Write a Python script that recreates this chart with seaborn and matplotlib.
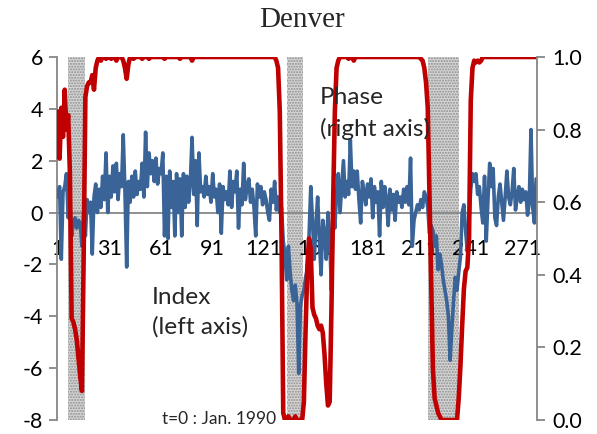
import numpy as np
import pandas as pd
import matplotlib
matplotlib.use("Agg")
import matplotlib.pyplot as plt
import seaborn as sns

# ---------------- data ----------------
index_values = [
    0.6, 1.0, -1.8, 0.8, 1.0, 1.5, -0.2, 0.3, -0.9, -0.4,
    -0.2, -0.6, -0.3, -0.4, -1.3, 0.0, -0.9, 0.5, 0.0, 0.4,
    -1.6, 0.6, 1.1, 0.0, 0.9, 0.2, 1.4, 0.5, 2.3, 0.0,
    1.4, 0.6, 1.8, 0.8, 1.9, 0.5, 1.5, 1.0, 3.0, 0.8,
    -2.1, 1.2, 0.4, 1.4, 0.6, 1.6, 0.7, 1.2, 0.9, 1.9,
    0.6, 3.1, 1.0, 2.3, 1.5, 2.0, 1.2, 2.1, 1.1, 1.7,
    1.5, 2.3, -0.9, 1.4, -1.0, 1.6, 0.2, 1.2, -0.9, 1.5,
    0.0, 1.3, -0.9, 1.5, 0.2, 1.4, 0.4, 1.2, 2.9, 0.7,
    2.0, -0.5, 2.3, 0.8, 1.0, 0.6, 1.4, 0.7, 1.0, 0.4,
    1.5, 0.6, 0.9, 0.0, 1.1, -0.8, 1.0, 0.5, 0.8, 0.3,
    1.6, 0.2, 1.2, 0.8, 1.6, -0.6, 0.9, 0.3, 1.9, 0.5,
    1.0, 1.3, 0.4, 0.9, 0.2, -0.9, 1.1, 0.6, 1.0, 0.3,
    0.8, 0.5, 0.0, -0.3, 0.9, 0.4, 1.2, 0.1, 0.6, 0.0,
    0.2, -1.1, -1.6, -2.6, -1.3, -2.3, -3.0, -3.4, -2.8, -3.5,
    -6.2, -3.6, -3.2, -3.0, -2.5, -2.2, -0.9, 1.0, -0.3, -1.8,
    -0.5, 0.6, -1.0, -2.4, -0.3, -0.8, -1.8, 0.0, -0.9, -3.0,
    0.0, -0.6, 0.8, 1.5, 0.0, 1.0, 2.0, 0.6, 1.2, 0.7,
    2.8, 1.0, 1.6, 0.9, 1.6, 0.5, -0.4, 1.2, 0.8, 0.3,
    1.1, 0.6, 1.3, -0.2, 1.0, 0.4, 0.8, -0.9, 1.2, 0.2,
    1.0, 0.5, -0.5, 0.9, 0.1, 0.7, -0.3, 0.8, 0.4, 0.6,
    0.2, 0.9, 0.4, 1.0, 0.3, 2.1, -1.3, -0.3, 0.0, 0.3,
    0.1, 0.5, 0.2, 0.8, 0.6, 0.2, -0.8, -0.5, -0.7, -1.3,
    -0.9, -2.2, -1.6, -2.0, -2.6, -3.0, -3.4, -4.0, -5.7, -4.5,
    -3.4, -2.5, -3.0, -2.3, -1.7, 0.0, 0.3, -0.7, -1.5, -0.3,
    0.9, 1.5, 1.2, 1.5, 0.7, 1.0, 0.2, -0.4, 1.4, -1.1,
    0.5, 1.9, 1.0, 1.7, -0.2, -0.5, 0.6, 1.1, 0.4, -0.3,
    0.6, 1.6, 0.6, 0.3, 0.8, 1.7, 0.1, 0.6, 1.0, 0.4,
    0.9, 0.5, 0.8, -0.1, 0.4, 3.2, 0.2, -0.4, 1.3,
]

phase_values = [
    0.85, 0.72, 0.86, 0.78, 0.91, 0.80, 0.84, 0.68, 0.28, 0.27,
    0.25, 0.22, 0.17, 0.12, 0.08, 0.45, 0.89, 0.92, 0.93, 0.93,
    0.95, 0.91, 0.97, 0.99, 1.0, 0.99, 1.0, 1.0, 0.995, 1.0,
    1.0, 0.995, 1.0, 1.0, 0.99, 1.0, 1.0, 1.0, 0.99, 0.97,
    0.94, 0.98, 1.0, 1.0, 0.995, 1.0, 1.0, 1.0, 1.0, 0.995,
    1.0, 1.0, 1.0, 0.995, 1.0, 1.0, 1.0, 1.0, 1.0, 1.0,
    1.0, 1.0, 0.995, 1.0, 1.0, 1.0, 1.0, 1.0, 1.0, 1.0,
    1.0, 0.995, 1.0, 1.0, 1.0, 1.0, 1.0, 1.0, 0.99, 1.0,
    1.0, 1.0, 1.0, 1.0, 1.0, 1.0, 1.0, 1.0, 1.0, 1.0,
    1.0, 1.0, 1.0, 1.0, 1.0, 1.0, 1.0, 1.0, 1.0, 1.0,
    1.0, 1.0, 1.0, 1.0, 1.0, 1.0, 1.0, 1.0, 1.0, 1.0,
    1.0, 1.0, 1.0, 1.0, 1.0, 1.0, 1.0, 1.0, 1.0, 1.0,
    1.0, 1.0, 1.0, 1.0, 1.0, 1.0, 1.0, 0.99, 0.97, 0.85,
    0.5, 0.02, 0.0, 0.0, 0.01, 0.0, 0.0, 0.0, 0.01, 0.0,
    0.0, 0.0, 0.0, 0.05, 0.25, 0.42, 0.5, 0.47, 0.31, 0.29,
    0.28, 0.26, 0.25, 0.26, 0.24, 0.18, 0.1, 0.04, 0.05, 0.3,
    0.6, 0.85, 0.97, 0.99, 1.0, 1.0, 1.0, 1.0, 1.0, 0.995,
    1.0, 1.0, 0.99, 1.0, 1.0, 1.0, 1.0, 1.0, 1.0, 1.0,
    1.0, 1.0, 1.0, 1.0, 1.0, 1.0, 1.0, 1.0, 1.0, 1.0,
    1.0, 1.0, 1.0, 1.0, 1.0, 1.0, 1.0, 1.0, 1.0, 1.0,
    1.0, 1.0, 1.0, 1.0, 1.0, 1.0, 1.0, 1.0, 1.0, 1.0,
    1.0, 0.995, 0.99, 0.97, 0.93, 0.86, 0.62, 0.38, 0.14, 0.06,
    0.04, 0.02, 0.01, 0.0, 0.0, 0.0, 0.0, 0.0, 0.0, 0.0,
    0.0, 0.0, 0.0, 0.06, 0.15, 0.26, 0.36, 0.41, 0.42, 0.5,
    0.88, 0.97, 0.99, 0.985, 0.99, 0.985, 0.99, 1.0, 1.0, 1.0,
    1.0, 1.0, 1.0, 1.0, 1.0, 1.0, 1.0, 1.0, 1.0, 1.0,
    1.0, 1.0, 1.0, 1.0, 1.0, 1.0, 1.0, 1.0, 1.0, 1.0,
    1.0, 1.0, 1.0, 1.0, 1.0, 1.0, 1.0, 1.0, 1.0,
]

months = list(range(1, len(index_values) + 1))
recessions = [(6.8, 16.8), (134.4, 143.2), (216.0, 234.2)]
x_tick_values = [1, 31, 61, 91, 121, 151, 181, 211, 241, 271]
left_ticks = [-8, -6, -4, -2, 0, 2, 4, 6]
right_ticks = [0.0, 0.2, 0.4, 0.6, 0.8, 1.0]

df = pd.DataFrame({"t": months, "index": index_values, "phase": phase_values})

# ---------------- style ----------------
sns.set_style("white")
plt.rcParams["font.family"] = ["Lato", "DejaVu Sans"]
plt.rcParams["hatch.linewidth"] = 1.0

BLUE = "#3A6497"
RED = "#C00000"
GRAY = "#868686"
FS = 15.4
FA = 17.6

W, H = 597, 434
fig = plt.figure(figsize=(W / 100, H / 100), dpi=100)
ax = fig.add_axes([57 / W, 14 / H, 480 / W, 363 / H])

for a, b in recessions:
    ax.axvspan(a, b, facecolor="#d6d6d6", edgecolor="#8e8e8e", hatch="......",
               linewidth=0, zorder=0)

sns.lineplot(data=df, x="t", y="index", ax=ax, color=BLUE, linewidth=2.6,
             zorder=3, legend=False)
ax.set_xlim(0.5, len(months) + 0.5)
ax.set_ylim(-8, 6)
ax.set_yticks(left_ticks)
ax.set_yticklabels([str(v) for v in left_ticks])
ax.set_xticks(x_tick_values)
ax.set_xticklabels([str(v) for v in x_tick_values])
ax.set_xlabel("")
ax.set_ylabel("")

for s in ["top", "right"]:
    ax.spines[s].set_visible(False)
ax.spines["bottom"].set_position(("data", 0))
ax.spines["bottom"].set_color(GRAY)
ax.spines["bottom"].set_linewidth(1.3)
ax.spines["left"].set_color(GRAY)
ax.spines["left"].set_linewidth(1.3)
ax.tick_params(axis="x", length=0, pad=19, labelsize=FS, colors="black")
ax.tick_params(axis="y", direction="out", length=6, width=1.3, color=GRAY,
               pad=4, labelsize=FS, labelcolor="black", left=True)

ax2 = ax.twinx()
sns.lineplot(data=df, x="t", y="phase", ax=ax2, color=RED, linewidth=3.3,
             legend=False)
ax2.set_ylim(0, 1)
ax2.set_xlim(0.5, len(months) + 0.5)
ax2.set_yticks(right_ticks)
ax2.set_yticklabels([f"{v:.1f}" for v in right_ticks])
ax2.set_ylabel("")
for s in ["top", "left", "bottom"]:
    ax2.spines[s].set_visible(False)
ax2.spines["right"].set_color(GRAY)
ax2.spines["right"].set_linewidth(1.3)
ax2.tick_params(axis="y", direction="out", length=6, width=1.3, color=GRAY,
                pad=5, labelsize=FS, labelcolor="black", right=True)

def ftxt(x, y, s, **kw):
    fig.text(x / W, 1 - y / H, s, **kw)

ftxt(302, 20, "Denver", family=["Liberation Serif", "DejaVu Serif"],
     fontsize=21, ha="center", va="center")
ftxt(320, 98, "Phase", fontsize=FA, ha="left", va="center")
ftxt(320, 129, "(right axis)", fontsize=FA, ha="left", va="center")
ftxt(152, 297, "Index", fontsize=FA, ha="left", va="center")
ftxt(152, 327, "(left axis)", fontsize=FA, ha="left", va="center")
ftxt(162, 419, "t=0 : Jan. 1990", fontsize=12.5, ha="left", va="center")

fig.savefig("out.png", dpi=100)
